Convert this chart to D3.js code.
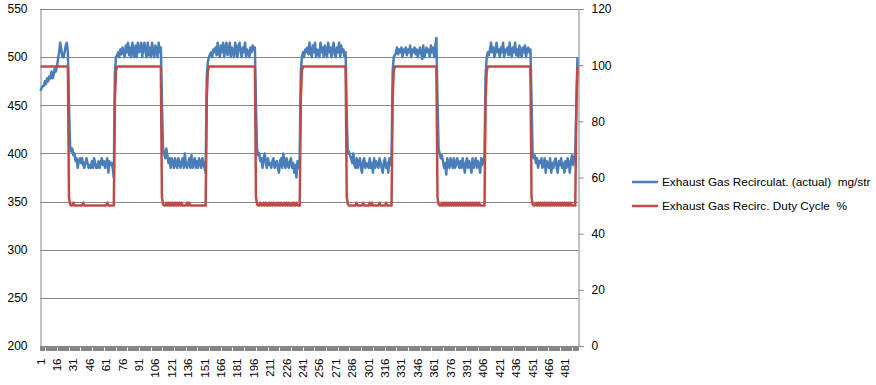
<!DOCTYPE html>
<html><head><meta charset="utf-8">
<script src="https://cdn.jsdelivr.net/npm/d3@7"></script>
<style>
body{margin:0;background:#fff;}
svg{display:block;}
text{font-family:"Liberation Sans",Arial,sans-serif;fill:#000;}
</style>
</head><body>
<svg id="c" width="876" height="385"></svg>
<script>
// Exhaust Gas Recirculat. (actual) mg/str  — left axis
const egrActual = [
465,468,470,470,475,472,478,475,480,478,485,478,482,488,485,490,498,505,515,508,500,500,505,512,515,505,
450,408,
402,405,398,400,392,395,385,392,395,390,395,388,385,390,395,390,385,388,385,392,
385,395,390,385,385,392,385,390,395,388,392,385,390,395,380,392,388,390,385,375,
485,500,
502,505,500,508,503,510,505,500,512,505,515,502,510,500,515,505,500,512,500,515,
505,508,515,500,510,515,505,500,515,502,510,500,515,505,500,512,508,500,515,505,510,
455,405,
400,395,405,398,390,395,385,395,390,385,395,388,385,395,390,385,392,395,385,400,
388,385,390,395,385,398,385,390,395,385,392,385,395,390,385,395,390,385,380,
480,495,
500,503,505,500,508,505,510,502,515,505,500,512,505,515,500,510,515,502,505,515,
500,510,505,500,515,508,500,512,515,505,500,510,505,515,500,508,505,500,510,505,512,508,510,
450,405,
398,400,392,395,385,395,400,390,385,395,388,390,385,392,395,385,390,392,385,380,
392,395,385,400,390,385,395,388,385,392,395,385,390,380,388,375,392,385,395,
485,500,
505,500,508,505,510,503,515,505,500,512,505,515,500,508,505,500,515,505,510,500,
512,505,500,515,505,510,500,508,515,503,500,510,505,515,500,512,505,508,500,505,
440,400,
402,398,395,390,400,388,385,395,385,390,395,385,380,392,395,385,390,388,385,395,
385,390,380,395,385,392,388,385,395,390,385,380,392,395,385,390,380,395,388,395,
485,500,
502,505,510,503,508,505,510,500,508,505,510,502,508,505,512,500,508,505,510,503,
508,500,505,510,505,498,512,500,505,510,505,508,500,512,505,510,500,512,520,
455,405,
400,395,398,392,385,390,378,395,388,385,395,390,385,395,385,388,395,390,385,392,
385,395,388,380,390,395,385,392,388,380,395,385,390,395,385,392,388,380,395,388,392,398,
480,500,
505,502,508,515,505,510,500,505,515,505,508,500,510,505,515,500,508,505,510,502,
515,505,500,510,505,515,502,508,500,512,505,500,510,505,512,500,508,510,505,508,
455,400,
395,398,390,395,385,392,390,395,385,388,395,380,392,388,385,395,380,390,385,392,
395,385,380,392,388,395,385,390,380,392,385,395,390,380,392,398,388,395,400,
450,500
];

// Exhaust Gas Recirc. Duty Cycle % — right axis
const dutyCycle = [
99.5,99.5,99.5,99.5,99.5,99.5,99.5,99.5,99.5,99.5,99.5,99.5,99.5,99.5,99.5,99.5,99.5,99.5,99.5,99.5,99.5,99.5,99.5,99.5,99.5,99.5,
53,50.5,
50,50,51,50,50,50,50,50,50,50,50,51,50,50,50,50,50,50,50,50,
50,50,50,50,50,50,50,50,50,50,50,50,50,51,50,50,50,50,50,50,
88,98,
99.5,99.5,99.5,99.5,99.5,99.5,99.5,99.5,99.5,99.5,99.5,99.5,99.5,99.5,99.5,99.5,99.5,99.5,99.5,99.5,
99.5,99.5,99.5,99.5,99.5,99.5,99.5,99.5,99.5,99.5,99.5,99.5,99.5,99.5,99.5,99.5,99.5,99.5,99.5,99.5,99.5,
53,50.5,
50,50,51,50,51,50,51,50,51,50,51,50,51,50,51,50,51,50,50,50,
50,51,50,51,50,50,50,50,50,50,50,50,50,50,50,50,50,50,50,
88,98,
99.5,99.5,99.5,99.5,99.5,99.5,99.5,99.5,99.5,99.5,99.5,99.5,99.5,99.5,99.5,99.5,99.5,99.5,99.5,99.5,
99.5,99.5,99.5,99.5,99.5,99.5,99.5,99.5,99.5,99.5,99.5,99.5,99.5,99.5,99.5,99.5,99.5,99.5,99.5,99.5,99.5,99.5,99.5,
53,50.5,
50,50,51,50,50,51,50,51,50,50,51,50,51,50,51,50,50,51,50,51,
50,51,50,50,51,50,51,50,51,50,50,51,50,51,50,51,50,50,50,
88,98,
99.5,99.5,99.5,99.5,99.5,99.5,99.5,99.5,99.5,99.5,99.5,99.5,99.5,99.5,99.5,99.5,99.5,99.5,99.5,99.5,
99.5,99.5,99.5,99.5,99.5,99.5,99.5,99.5,99.5,99.5,99.5,99.5,99.5,99.5,99.5,99.5,99.5,99.5,99.5,99.5,
53,50.5,
50,50,50,50,50,50,50,51,50,50,50,50,50,51,50,50,50,50,50,51,
50,51,50,50,50,50,50,50,51,50,50,50,50,50,51,50,50,50,50,50,
88,98,
99.5,99.5,99.5,99.5,99.5,99.5,99.5,99.5,99.5,99.5,99.5,99.5,99.5,99.5,99.5,99.5,99.5,99.5,99.5,99.5,
99.5,99.5,99.5,99.5,99.5,99.5,99.5,99.5,99.5,99.5,99.5,99.5,99.5,99.5,99.5,99.5,99.5,99.5,99.5,
53,50.5,
50,50,51,50,51,50,51,50,51,50,51,50,51,50,51,50,51,50,51,50,
51,50,51,50,51,50,51,50,51,50,51,50,51,50,51,50,51,50,50,50,50,50,
88,98,
99.5,99.5,99.5,99.5,99.5,99.5,99.5,99.5,99.5,99.5,99.5,99.5,99.5,99.5,99.5,99.5,99.5,99.5,99.5,99.5,
99.5,99.5,99.5,99.5,99.5,99.5,99.5,99.5,99.5,99.5,99.5,99.5,99.5,99.5,99.5,99.5,99.5,99.5,99.5,99.5,
53,50.5,
50,50,51,50,51,50,51,50,51,50,51,50,51,50,51,50,51,50,51,50,
51,50,51,50,51,50,51,50,51,50,51,50,51,50,51,50,50,50,50,
85,99.5
];

const xTickLabels = [1,16,31,46,61,76,91,106,121,136,151,166,181,196,211,226,241,256,271,286,301,316,331,346,361,376,391,406,421,436,451,466,481];
const leftTicks = [200,250,300,350,400,450,500,550];
const rightTicks = [0,20,40,60,80,100,120];
const seriesNames = ["Exhaust Gas Recirculat. (actual)  mg/str","Exhaust Gas Recirc. Duty Cycle  %"];
const seriesColors = ["#4A7EBB","#BE4B48"];

const svg = d3.select("#c");
const L = 40, R = 578, T = 9, B = 346;
const N = egrActual.length;
const categories = d3.range(1, N + 1);

const x = d3.scaleBand().domain(categories).range([L, R]).padding(0);
const cx = i => x(i) + x.bandwidth() / 2;
const yL = d3.scaleLinear().domain([200, 550]).range([B, T]);
const yR = d3.scaleLinear().domain([0, 120]).range([B, T]);

// gridlines
svg.append("g").selectAll("line").data(leftTicks).join("line")
  .attr("x1", L).attr("x2", R)
  .attr("y1", d => Math.round(yL(d)) + 0.5).attr("y2", d => Math.round(yL(d)) + 0.5)
  .attr("stroke", "#868686").attr("stroke-width", 1);

// left axis
const gl = svg.append("g").attr("transform", `translate(${L + 0.5},0)`)
  .call(d3.axisLeft(yL).tickValues(leftTicks).tickSize(0).tickPadding(13).tickFormat(d3.format("d")));
gl.select(".domain").attr("stroke", "#868686");
gl.selectAll("text").attr("font-size", 12).attr("font-family", "Liberation Sans, Arial, sans-serif").attr("fill", "#000");

// right axis
const gr = svg.append("g").attr("transform", `translate(${R + 0.5},0)`)
  .call(d3.axisRight(yR).tickValues(rightTicks).tickSize(5).tickPadding(8).tickFormat(d3.format("d")));
gr.select(".domain").attr("stroke", "#868686");
gr.selectAll("line").attr("stroke", "#868686");
gr.selectAll("text").attr("font-size", 12).attr("font-family", "Liberation Sans, Arial, sans-serif").attr("fill", "#000");

// bottom axis: tick at every category, labels every 15
const gb = svg.append("g").attr("transform", `translate(0,${B + 0.5})`)
  .call(d3.axisBottom(x).tickValues(categories).tickSize(4).tickFormat(""));
gb.select(".domain").attr("stroke", "#868686");
gb.selectAll(".tick line").attr("stroke", "#868686").attr("shape-rendering", "crispEdges");
gb.selectAll(".tick").filter(d => xTickLabels.includes(d))
  .append("text")
  .attr("transform", "translate(0,12) rotate(-90)")
  .attr("text-anchor", "end")
  .attr("dy", "0.35em")
  .attr("font-size", 11.5)
  .attr("font-family", "Liberation Sans, Arial, sans-serif")
  .attr("fill", "#000")
  .text(d => d);

// series lines
const lineL = d3.line().x((d, i) => cx(categories[i])).y(d => yL(d));
const lineR = d3.line().x((d, i) => cx(categories[i])).y(d => yR(d));
svg.append("path").datum(egrActual).attr("d", lineL)
  .attr("fill", "none").attr("stroke", seriesColors[0]).attr("stroke-width", 2.5).attr("stroke-linejoin", "round");
svg.append("path").datum(dutyCycle).attr("d", lineR)
  .attr("fill", "none").attr("stroke", seriesColors[1]).attr("stroke-width", 2.5).attr("stroke-linejoin", "round");

// legend
const lg = svg.append("g");
const legY = [182, 206];
seriesNames.forEach((name, i) => {
  lg.append("line").attr("x1", 632).attr("x2", 658).attr("y1", legY[i]).attr("y2", legY[i])
    .attr("stroke", seriesColors[i]).attr("stroke-width", 2.5);
  lg.append("text").attr("x", 662).attr("y", legY[i]).attr("dy", "0.35em")
    .attr("font-size", 11.8).style("white-space", "pre").text(name);
});
</script>
</body></html>
